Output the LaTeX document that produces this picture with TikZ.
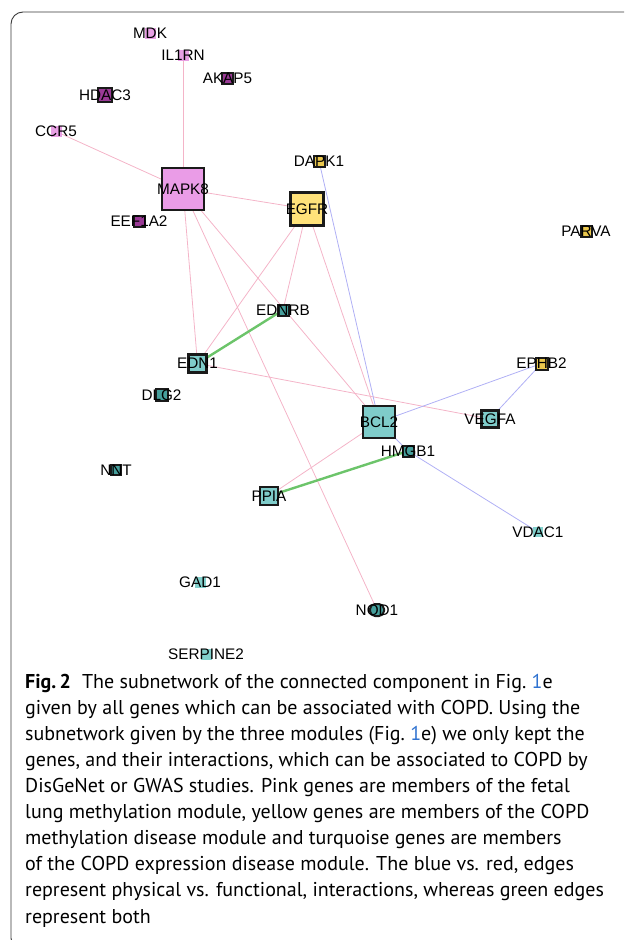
\documentclass[tikz,border=0pt]{standalone}
\usepackage{fontspec}
\setmainfont{Liberation Sans}
\newfontfamily\capfont{PT Sans}
\usetikzlibrary{backgrounds}

% node fills by module
\definecolor{pinkhub}{HTML}{EA9CE7}
\definecolor{pinklite}{HTML}{E8A0E4}
\definecolor{purplesm}{HTML}{9A3A96}
\definecolor{yellowhub}{HTML}{FFE27A}
\definecolor{yellowsm}{HTML}{EBC84E}
\definecolor{tealhub}{HTML}{7FCCCA}
\definecolor{tealsm}{HTML}{469F9C}
\definecolor{teallite}{HTML}{82D0CC}
\definecolor{rimcol}{HTML}{1A1A1A}
% edge types
\definecolor{funcedge}{HTML}{F4B4C8}
\definecolor{physedge}{HTML}{B0B0F5}
\definecolor{bothedge}{HTML}{6CC46A}
\definecolor{linkblue}{HTML}{2F72D0}
\definecolor{framecol}{HTML}{3A3A3A}

\tikzset{
  gene/.style={rectangle, inner sep=0pt, outer sep=0pt},
  sq/.style={minimum width=#1, minimum height=#1},
  hub/.style={gene, draw=rimcol, line width=2.6pt},
  smallgene/.style={gene, draw=rimcol, line width=2pt},
  litegene/.style={gene, draw=none},
  every label/.style={font=\fontsize{15.3}{16}\selectfont, inner sep=0pt, text=black},
  functional/.style={draw=funcedge, line width=0.8pt},
  physical/.style={draw=physedge, line width=0.8pt},
  combined/.style={draw=bothedge, line width=2.4pt},
  captext/.style={anchor=base west, inner sep=0pt, font=\capfont\fontsize{20}{24}\selectfont},
}

\begin{document}
\begin{tikzpicture}[x=1pt, y=-1pt]
\useasboundingbox (0,0) rectangle (624,940);
\clip (0,0) rectangle (624,940);

% panel frame
\draw[framecol, line width=0.9pt, rounded corners=12pt] (11,12) rectangle (660,950);

% fetal lung methylation module (pink)
\node[hub, fill=pinkhub, sq=42pt, label=center:MAPK8] (mapk8) at (183,189) {};
\node[litegene, fill=pinklite, sq=11pt, label=center:MDK] (mdk) at (150,33) {};
\node[litegene, fill=pinklite, sq=11pt, label=center:IL1RN] (il1rn) at (183,55) {};
\node[smallgene, fill=purplesm, sq=11pt, label=center:AKAP5] (akap5) at (227.5,78) {};
\node[smallgene, fill=purplesm, sq=14pt, label=center:HDAC3] (hdac3) at (105,95) {};
\node[litegene, fill=pinklite, sq=11pt, label=center:CCR5] (ccr5) at (56,131.5) {};
\node[smallgene, fill=purplesm, sq=11pt, label=center:EEF1A2] (eef1a2) at (139,221.5) {};

% COPD methylation module (yellow)
\node[hub, fill=yellowhub, sq=33pt, label=center:EGFR] (egfr) at (307,209) {};
\node[smallgene, fill=yellowsm, sq=11pt, label=center:DAPK1] (dapk1) at (319,161) {};
\node[smallgene, fill=yellowsm, sq=11pt, label=center:PARVA] (parva) at (586,231) {};
\node[smallgene, fill=yellowsm, sq=12pt, label=center:EPHB2] (ephb2) at (541.5,363.5) {};

% COPD expression module (turquoise)
\node[hub, fill=tealhub, sq=32pt, label=center:BCL2] (bcl2) at (379,422) {};
\node[hub, fill=tealhub, sq=18pt, line width=2.2pt, label=center:EDN1] (edn1) at (197.5,363.5) {};
\node[hub, fill=tealhub, sq=18pt, line width=2.2pt, label=center:PPIA] (ppia) at (269,496) {};
\node[hub, fill=tealhub, sq=17pt, line width=2.2pt, label=center:VEGFA] (vegfa) at (490,419) {};
\node[smallgene, fill=tealsm, sq=11pt, label=center:HMGB1] (hmgb1) at (408,451) {};
\node[smallgene, fill=tealsm, sq=11pt, label=center:EDNRB] (ednrb) at (283,310) {};
\node[smallgene, fill=tealsm, sq=12pt, label=center:DLG2] (dlg2) at (161.5,395) {};
\node[smallgene, fill=tealsm, sq=10pt, label=center:NNT] (nnt) at (116,470) {};
\node[smallgene, fill=tealsm, minimum width=14pt, minimum height=12pt, rounded corners=5pt, label=center:NOD1] (nod1) at (377,610) {};
\node[litegene, fill=teallite, sq=10pt, label=center:VDAC1] (vdac1) at (538,532) {};
\node[litegene, fill=teallite, sq=11pt, label=center:GAD1] (gad1) at (200,582) {};
\node[litegene, fill=teallite, sq=11pt, label=center:SERPINE2] (serpine2) at (206,654) {};

% interactions, kept under the genes
\begin{scope}[on background layer]
  \draw[functional] (mapk8) -- (ccr5);
  \draw[functional] (mapk8) -- (il1rn);
  \draw[functional] (mapk8) -- (egfr);
  \draw[functional] (mapk8) -- (edn1);
  \draw[functional] (mapk8) -- (bcl2);
  \draw[functional] (mapk8) -- (nod1);
  \draw[functional] (egfr) -- (edn1);
  \draw[functional] (egfr) -- (ednrb);
  \draw[functional] (egfr) -- (bcl2);
  \draw[functional] (edn1) -- (vegfa);
  \draw[functional] (bcl2) -- (ppia);
  \draw[physical] (dapk1) -- (bcl2);
  \draw[physical] (bcl2) -- (ephb2);
  \draw[physical] (vegfa) -- (ephb2);
  \draw[physical] (bcl2) -- (hmgb1);
  \draw[physical] (hmgb1) -- (vdac1);
  \draw[combined] (edn1) -- (ednrb);
  \draw[combined] (ppia) -- (hmgb1);
\end{scope}

% caption
\node[captext] (cap1) at (25,688) {\textbf{Fig.\,2}\hspace{0.55em}The subnetwork of the connected component in Fig.~\textcolor{linkblue}{1}e};
\node[captext] (cap2) at (25,714.1) {given by all genes which can be associated with COPD. Using the};
\node[captext] (cap3) at (25,740.2) {subnetwork given by the three modules (Fig.~\textcolor{linkblue}{1}e) we only kept the};
\node[captext] (cap4) at (25,766.3) {genes, and their interactions, which can be associated to COPD by};
\node[captext] (cap5) at (25,792.4) {DisGeNet or GWAS studies. Pink genes are members of the fetal};
\node[captext] (cap6) at (25,818.5) {lung methylation module, yellow genes are members of the COPD};
\node[captext] (cap7) at (25,844.6) {methylation disease module and turquoise genes are members};
\node[captext] (cap8) at (25,870.7) {of the COPD expression disease module. The blue vs. red, edges};
\node[captext] (cap9) at (25,896.8) {represent physical vs. functional, interactions, whereas green edges};
\node[captext] (cap10) at (25,923) {represent both};
\end{tikzpicture}
\end{document}
